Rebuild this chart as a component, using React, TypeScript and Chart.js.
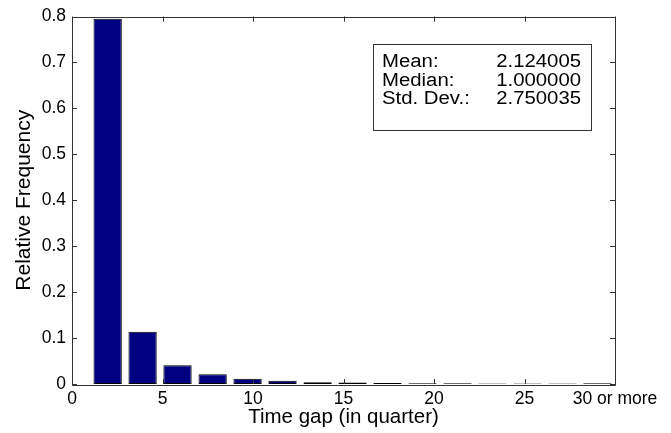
import React, { useEffect, useRef } from "react";
import { Chart, registerables } from "chart.js";

Chart.register(...registerables);

// Bin centers (time gap, in quarters) and relative frequencies
const binCenters = [1.97, 3.9, 5.83, 7.77, 9.7, 11.63, 13.57, 15.5, 17.43, 19.37, 21.3, 23.23, 25.17, 27.1, 29.03];
const relFreq = [0.795, 0.114, 0.041, 0.021, 0.0115, 0.007, 0.004, 0.0035, 0.002, 0.0015, 0.0015, 0.001, 0.001, 0.001, 0.0015];

const xTicks = [0, 5, 10, 15, 20, 25, 30];
const xTickLabels = ["0", "5", "10", "15", "20", "25", "30 or more"];
const yTicks = [0, 0.1, 0.2, 0.3, 0.4, 0.5, 0.6, 0.7, 0.8];

const statLabels = ["Mean:", "Median:", "Std. Dev.:"];
const statValues = ["2.124005", "1.000000", "2.750035"];

const FONT = "'Liberation Sans', Arial, Helvetica, sans-serif";

const framePlugin = {
  id: "matlabFrame",
  afterDraw(chart: any) {
    const { ctx, chartArea: a, scales } = chart;
    ctx.save();
    ctx.strokeStyle = "#333";
    ctx.lineWidth = 1;
    ctx.beginPath();
    ctx.rect(Math.round(a.left) + 0.5, Math.round(a.top) + 0.5, Math.round(a.right - a.left), Math.round(a.bottom - a.top));
    ctx.stroke();
    const tl = 5;
    ctx.beginPath();
    for (const v of xTicks) {
      const px = Math.round(scales.x.getPixelForValue(v)) + 0.5;
      ctx.moveTo(px, a.bottom);
      ctx.lineTo(px, a.bottom - tl);
      ctx.moveTo(px, a.top);
      ctx.lineTo(px, a.top + tl);
    }
    for (const v of yTicks) {
      const py = Math.round(scales.y.getPixelForValue(v)) + 0.5;
      ctx.moveTo(a.left, py);
      ctx.lineTo(a.left + tl, py);
      ctx.moveTo(a.right, py);
      ctx.lineTo(a.right - tl, py);
    }
    ctx.stroke();

    // statistics box
    const bx = 373.5, by = 44.5, bw = 218, bh = 86;
    ctx.fillStyle = "#fff";
    ctx.fillRect(bx, by, bw, bh);
    ctx.strokeStyle = "#333";
    ctx.strokeRect(bx, by, bw, bh);
    ctx.fillStyle = "#000";
    ctx.font = `18px ${FONT}`;
    ctx.textBaseline = "alphabetic";
    const sx = 1.13;
    for (let i = 0; i < statLabels.length; i++) {
      const y = 67 + i * 18.7;
      ctx.save();
      ctx.translate(382, y);
      ctx.scale(sx, 1);
      ctx.textAlign = "left";
      ctx.fillText(statLabels[i], 0, 0);
      ctx.restore();
      ctx.save();
      ctx.translate(581, y);
      ctx.scale(sx, 1);
      ctx.textAlign = "right";
      ctx.fillText(statValues[i], 0, 0);
      ctx.restore();
    }
    ctx.restore();
  },
};

export default function App() {
  const ref = useRef<HTMLCanvasElement | null>(null);
  useEffect(() => {
    document.body.style.margin = "0";
    const canvas = ref.current!;
    const chart = new Chart(canvas, {
      type: "bar",
      data: {
        datasets: [
          {
            data: binCenters.map((c, i) => ({ x: c, y: relFreq[i] })),
            backgroundColor: "#000080",
            borderColor: "#000000",
            borderWidth: 1,
            borderSkipped: false,
            barPercentage: 1,
            categoryPercentage: 0.81,
          } as any,
        ],
      },
      options: {
        responsive: false,
        animation: false,
        devicePixelRatio: 1,
        layout: { padding: { top: 16, right: 56, left: 0, bottom: 0 } },
        plugins: { legend: { display: false }, tooltip: { enabled: false } },
        scales: {
          x: {
            type: "linear",
            min: 0,
            max: 30,
            offset: false,
            afterBuildTicks: (s: any) => {
              s.ticks = xTicks.map((v) => ({ value: v }));
            },
            afterFit: (s: any) => {
              s.height = 49;
            },
            ticks: {
              autoSkip: false,
              maxRotation: 0,
              padding: 5,
              color: "#000",
              font: { family: FONT, size: 17.5 },
              callback: (v: any) => xTickLabels[xTicks.indexOf(Number(v))] ?? String(v),
            },
            grid: { display: false, drawTicks: false },
            border: { display: false },
            title: {
              display: true,
              text: "Time gap (in quarter)",
              color: "#000",
              font: { family: FONT, size: 20.5 },
              padding: { top: 0, bottom: 3 },
            },
          },
          y: {
            min: 0,
            max: 0.8,
            afterBuildTicks: (s: any) => {
              s.ticks = yTicks.map((v) => ({ value: v }));
            },
            afterFit: (s: any) => {
              s.width = 72;
            },
            ticks: {
              padding: 6,
              color: "#000",
              font: { family: FONT, size: 17.5 },
              callback: (v: any) => (Number(v) === 0 ? "0" : Number(v).toFixed(1)),
            },
            grid: { display: false, drawTicks: false },
            border: { display: false },
            title: {
              display: true,
              text: "Relative Frequency",
              color: "#000",
              font: { family: FONT, size: 21 },
              padding: { top: 12, bottom: 0 },
            },
          },
        },
      },
      plugins: [framePlugin],
    });
    return () => chart.destroy();
  }, []);
  return (
    <div style={{ width: 671, height: 433, background: "#fff" }}>
      <canvas ref={ref} width={671} height={433} style={{ display: "block" }} />
    </div>
  );
}
